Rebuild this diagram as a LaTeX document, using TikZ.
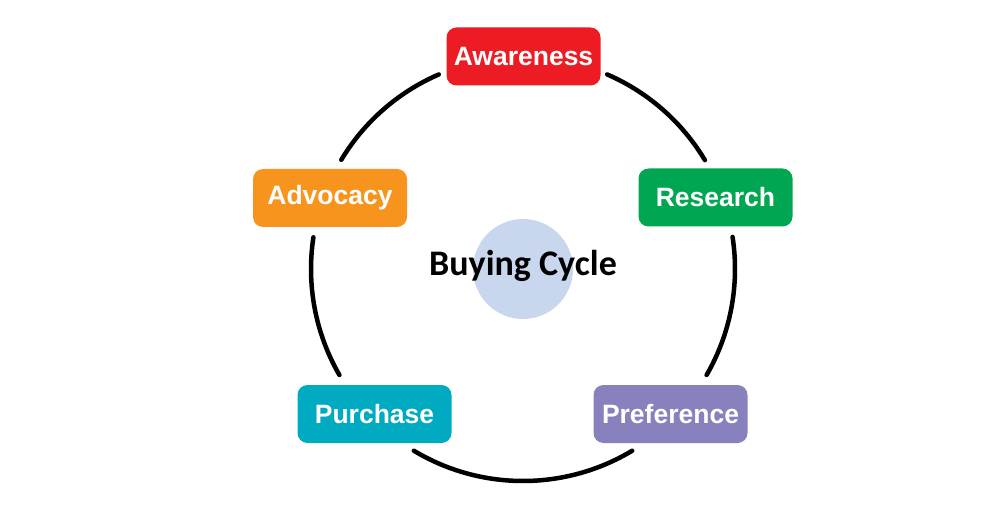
\documentclass[tikz,border=0pt]{standalone}
\usepackage{fontspec}
\usetikzlibrary{calc}
\setmainfont{Liberation Sans}
\newfontfamily\titlefont{Carlito}
\definecolor{cAware}{HTML}{ED1C24}
\definecolor{cResearch}{HTML}{00A651}
\definecolor{cPref}{HTML}{8781BD}
\definecolor{cPurch}{HTML}{00ABC2}
\definecolor{cAdv}{HTML}{F7941D}
\definecolor{cHub}{HTML}{C8D7EE}
\tikzset{
  stagebox/.style={rounded corners=10pt, minimum width=154pt, minimum height=58pt,
    text=white, font=\fontsize{26.5}{28}\selectfont\bfseries, inner sep=0pt},
  ring/.style={line width=4.5pt, line cap=round, black}
}
\begin{document}
\begin{tikzpicture}[x=1pt,y=1pt]
\useasboundingbox (0,0) rectangle (1000,509);
\coordinate (c) at (523,240);
\node[circle, fill=cHub, minimum size=100pt, inner sep=0pt] (hub) at (523,240) {};
\node[font=\titlefont\fontsize{36}{38}\selectfont\bfseries] (title) at (523,243) {Buying Cycle};
\node[stagebox, fill=cAware] (aw) at (523.5,452.5) {Awareness};
\node[stagebox, fill=cResearch] (re) at (715.5,311.5) {Research};
\node[stagebox, fill=cPref] (pr) at (670.5,95) {Preference};
\node[stagebox, fill=cPurch] (pu) at (374.5,95) {Purchase};
\node[stagebox, fill=cAdv] (ad) at (330,311) {Advocacy};
\draw[ring] ($(c)+(66.6:212)$) arc[start angle=66.6, end angle=30.9, radius=212];
\draw[ring] ($(c)+(8.7:212)$) arc[start angle=8.7, end angle=-30, radius=212];
\draw[ring] ($(c)+(-59:212)$) arc[start angle=-59, end angle=-121, radius=212];
\draw[ring] ($(c)+(-150:212)$) arc[start angle=-150, end angle=-188.6, radius=212];
\draw[ring] ($(c)+(149:212)$) arc[start angle=149, end angle=113.4, radius=212];
\end{tikzpicture}
\end{document}
